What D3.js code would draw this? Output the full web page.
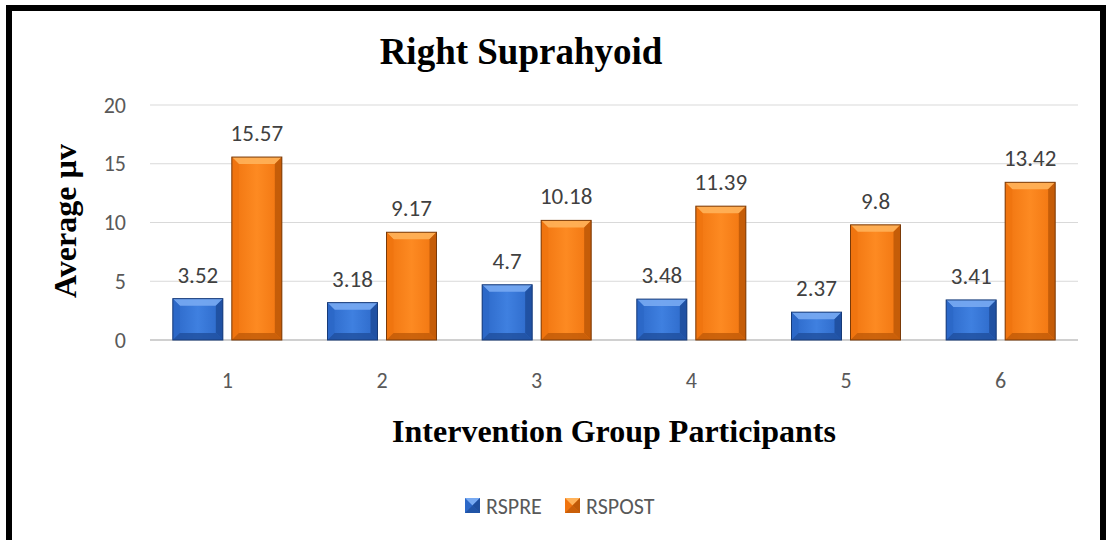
<!DOCTYPE html>
<html>
<head>
<meta charset="utf-8">
<script src="https://cdn.jsdelivr.net/npm/d3@7"></script>
<style>
  body { margin: 0; background: #fff; }
  svg { display: block; }
</style>
</head>
<body>
<script>
var participants = ['1', '2', '3', '4', '5', '6'];
var rspre = [3.52, 3.18, 4.7, 3.48, 2.37, 3.41];
var rspost = [15.57, 9.17, 10.18, 11.39, 9.8, 13.42];
var seriesNames = ['RSPRE', 'RSPOST'];
var yTicks = [0, 5, 10, 15, 20];

var W = 1107, H = 540;
var margin = { left: 150, right: 29, top: 105, bottom: 200 };

var svg = d3.select('body').append('svg')
  .attr('width', W)
  .attr('height', H);

// frame
svg.append('rect')
  .attr('x', 9).attr('y', 8)
  .attr('width', 1094).attr('height', 560)
  .attr('fill', 'none')
  .attr('stroke', '#000')
  .attr('stroke-width', 6);

var x = d3.scaleBand()
  .domain(participants)
  .range([margin.left, W - margin.right]);

var y = d3.scaleLinear()
  .domain([0, 20])
  .range([H - margin.bottom, margin.top]);

var barW = 50, gap = 9;
var sans = 'Carlito, Open Sans, Liberation Sans, sans-serif';
var serif = 'Liberation Serif, Times New Roman, serif';

var palette = {
  RSPRE: { main: '#2c68c8', light: '#3f80e0', top: '#78aaf2', dark: '#1f4f9e', edge: '#163a78' },
  RSPOST: { main: '#f0740f', light: '#fd8a22', top: '#ffb25a', dark: '#c05a08', edge: '#7a3a08' }
};

var defs = svg.append('defs');
seriesNames.forEach(function(s) {
  var c = palette[s];
  var g = defs.append('linearGradient').attr('id', 'g-' + s)
    .attr('x1', 0).attr('x2', 1).attr('y1', 0).attr('y2', 0);
  g.append('stop').attr('offset', '0%').attr('stop-color', c.main);
  g.append('stop').attr('offset', '50%').attr('stop-color', c.light);
  g.append('stop').attr('offset', '100%').attr('stop-color', c.main);
});

// gridlines
svg.append('g')
  .selectAll('line')
  .data(yTicks)
  .join('line')
    .attr('x1', margin.left)
    .attr('x2', W - margin.right)
    .attr('y1', function(d) { return y(d); })
    .attr('y2', function(d) { return y(d); })
    .attr('stroke', function(d) { return d === 0 ? '#d0d0d0' : '#d9d9d9'; })
    .attr('stroke-width', function(d) { return d === 0 ? 2 : 1; });

// y tick labels
svg.append('g')
  .selectAll('text')
  .data(yTicks)
  .join('text')
    .attr('x', 126)
    .attr('y', function(d) { return y(d); })
    .attr('dy', '0.35em')
    .attr('text-anchor', 'end')
    .attr('font-family', sans)
    .attr('font-size', 22)
    .attr('fill', '#595959')
    .text(function(d) { return d; });

// x tick labels
svg.append('g')
  .selectAll('text')
  .data(participants)
  .join('text')
    .attr('x', function(d) { return x(d) + x.bandwidth() / 2; })
    .attr('y', 388)
    .attr('text-anchor', 'middle')
    .attr('font-family', sans)
    .attr('font-size', 22)
    .attr('fill', '#595959')
    .text(function(d) { return d; });

var bars = [];
participants.forEach(function(p, i) {
  bars.push({ p: p, s: 'RSPRE', v: rspre[i], off: -gap / 2 - barW });
  bars.push({ p: p, s: 'RSPOST', v: rspost[i], off: gap / 2 });
});

function drawBar(g, d) {
  var c = palette[d.s];
  var x0 = x(d.p) + x.bandwidth() / 2 + d.off;
  var y0 = y(d.v), y1 = y(0);
  var h = y1 - y0;
  var b = Math.min(7, h / 2);
  g.append('rect')
    .attr('x', x0).attr('y', y0)
    .attr('width', barW).attr('height', h)
    .attr('fill', 'url(#g-' + d.s + ')');
  // top bevel
  g.append('path')
    .attr('d', 'M' + x0 + ',' + y0 + 'L' + (x0 + barW) + ',' + y0 + 'L' + (x0 + barW - b) + ',' + (y0 + b) + 'L' + (x0 + b) + ',' + (y0 + b) + 'Z')
    .attr('fill', c.top).attr('opacity', 0.9);
  // left bevel
  g.append('path')
    .attr('d', 'M' + x0 + ',' + y0 + 'L' + (x0 + b) + ',' + (y0 + b) + 'L' + (x0 + b) + ',' + (y1 - b) + 'L' + x0 + ',' + y1 + 'Z')
    .attr('fill', c.main).attr('opacity', 0.9);
  // right bevel
  g.append('path')
    .attr('d', 'M' + (x0 + barW) + ',' + y0 + 'L' + (x0 + barW - b) + ',' + (y0 + b) + 'L' + (x0 + barW - b) + ',' + (y1 - b) + 'L' + (x0 + barW) + ',' + y1 + 'Z')
    .attr('fill', c.dark).attr('opacity', 0.9);
  // bottom bevel
  g.append('path')
    .attr('d', 'M' + x0 + ',' + y1 + 'L' + (x0 + b) + ',' + (y1 - b) + 'L' + (x0 + barW - b) + ',' + (y1 - b) + 'L' + (x0 + barW) + ',' + y1 + 'Z')
    .attr('fill', c.dark).attr('opacity', 0.8);
  g.append('rect')
    .attr('x', x0).attr('y', y0)
    .attr('width', barW).attr('height', h)
    .attr('fill', 'none')
    .attr('stroke', c.edge).attr('stroke-width', 1);
  g.append('text')
    .attr('x', x0 + barW / 2)
    .attr('y', y0 - 16)
    .attr('text-anchor', 'middle')
    .attr('font-family', sans)
    .attr('font-size', 23)
    .attr('fill', '#404040')
    .text(d.v);
}

var barG = svg.append('g');
bars.forEach(function(d) { drawBar(barG.append('g'), d); });

// titles
svg.append('text')
  .attr('x', 521).attr('y', 64)
  .attr('text-anchor', 'middle')
  .attr('font-family', serif)
  .attr('font-weight', 'bold')
  .attr('font-size', 37)
  .attr('fill', '#000')
  .text('Right Suprahyoid');

svg.append('text')
  .attr('transform', 'translate(76,221) rotate(-90)')
  .attr('text-anchor', 'middle')
  .attr('font-family', serif)
  .attr('font-weight', 'bold')
  .attr('font-size', 32)
  .attr('fill', '#000')
  .text('Average µv');

svg.append('text')
  .attr('x', 614).attr('y', 442)
  .attr('text-anchor', 'middle')
  .attr('font-family', serif)
  .attr('font-weight', 'bold')
  .attr('font-size', 32)
  .attr('fill', '#000')
  .text('Intervention Group Participants');

// legend
var legendX = [465, 565];
var leg = svg.append('g')
  .selectAll('g')
  .data(seriesNames)
  .join('g')
    .attr('transform', function(d, i) { return 'translate(' + legendX[i] + ',498)'; });

leg.each(function(s) {
  var g = d3.select(this);
  var c = palette[s];
  g.append('rect').attr('width', 15).attr('height', 15).attr('fill', c.main);
  g.append('path').attr('d', 'M0,0L15,0L7.5,7.5Z').attr('fill', c.top);
  g.append('path').attr('d', 'M15,0L15,15L7.5,7.5Z').attr('fill', c.dark);
  g.append('path').attr('d', 'M0,15L15,15L7.5,7.5Z').attr('fill', c.dark).attr('opacity', 0.8);
  g.append('text')
    .attr('x', 21).attr('y', 8)
    .attr('dy', '0.35em')
    .attr('font-family', sans)
    .attr('font-size', 22)
    .attr('fill', '#595959')
    .text(s);
});
</script>
</body>
</html>
